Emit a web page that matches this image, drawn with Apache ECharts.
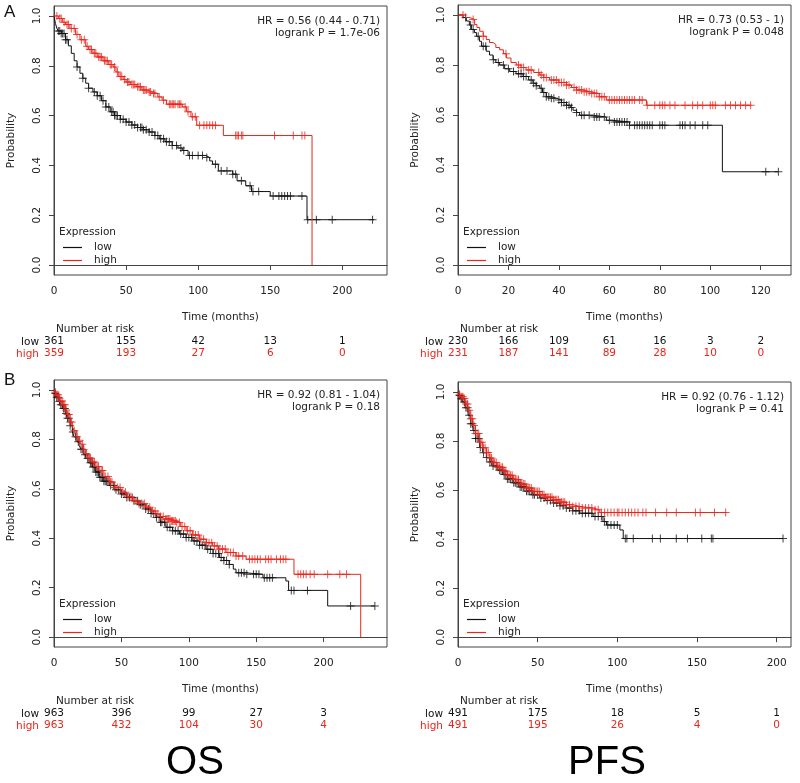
<!DOCTYPE html>
<html><head><meta charset="utf-8">
<script src="https://cdn.jsdelivr.net/npm/echarts@6/dist/echarts.min.js"></script>
<style>html,body{margin:0;padding:0;background:#fff}#c{width:800px;height:783px}</style>
</head><body><div id="c"></div>
<script>
// ---------- DATA ----------
// Panel A OS
const aOsTicks = [0, 50, 100, 150, 200];
const aOsLow = [[0,1],[1,0.97],[2,0.95],[3,0.94],[5,0.93],[8,0.905],[10,0.88],[12,0.85],[14,0.82],[16,0.795],[18,0.77],[20,0.75],[22,0.73],[24,0.71],[27,0.695],[30,0.68],[33,0.66],[36,0.635],[39,0.615],[42,0.6],[46,0.585],[50,0.574],[54,0.562],[58,0.552],[62,0.543],[66,0.534],[70,0.52],[73,0.507],[77,0.495],[82,0.48],[86,0.47],[89,0.46],[93,0.44],[105,0.432],[108,0.418],[110,0.405],[114,0.378],[124,0.365],[127,0.338],[133,0.318],[137,0.295],[150,0.277],[175.5,0.182],[222,0.182]];
const aOsHigh = [[0,1],[3,0.99],[6,0.975],[8,0.966],[11,0.95],[15,0.926],[18,0.905],[22,0.878],[24,0.865],[27,0.85],[30,0.835],[34,0.82],[38,0.805],[41,0.795],[43,0.775],[45,0.757],[48,0.745],[50,0.735],[53,0.725],[57,0.716],[61,0.703],[65,0.695],[68,0.689],[72,0.675],[75,0.662],[78,0.646],[89,0.635],[92,0.615],[95,0.595],[99,0.561],[117.5,0.52],[179,0]];
const aOsLowCens = [3,4,5,6,7,8,9,16,20,24,28,30,32,34,36,38,40,41,42,43,44,46,48,50,52,54,56,58,60,61,62,64,66,68,70,72,74,76,78,80,82,85,88,90,94,96,100,103,106,112,116,120,124,126,130,136,138,142,152,156,158,160,162,164,172,176,182,193,221];
const aOsHighCens = [2,4,5,7,9,10,12,14,16,19,21,23,25,26,28,29,31,32,33,35,36,37,39,40,42,44,46,47,49,51,52,54,55,56,58,59,60,62,63,64,66,67,69,70,73,76,80,81,82,83,84,86,87,88,91,93,96,98,101,104,106,108,110,112,126,127,128,130,131,153,166,172,174];
const aOsRiskLow = [361, 155, 42, 13, 1];
const aOsRiskHigh = [359, 193, 27, 6, 0];

// Panel A PFS
const aPfsTicks = [0, 20, 40, 60, 80, 100, 120];
const aPfsLow = [[0,1],[2,0.99],[3.3,0.976],[4.5,0.96],[5.3,0.942],[6.5,0.93],[7.3,0.915],[8.5,0.895],[9.3,0.875],[11.2,0.855],[12.5,0.84],[13.9,0.821],[15,0.81],[16.5,0.8],[18.5,0.785],[20.5,0.774],[23,0.765],[25.8,0.754],[28,0.74],[29.7,0.727],[31,0.717],[32.4,0.707],[33.5,0.69],[35,0.673],[37,0.667],[39,0.66],[41,0.65],[43,0.639],[44.5,0.63],[45.6,0.619],[47,0.61],[48.2,0.599],[53.5,0.592],[58.8,0.579],[61,0.572],[68,0.559],[104.8,0.373],[127,0.373]];
const aPfsHigh = [[0,1],[3,0.99],[4.6,0.982],[6.6,0.962],[7.5,0.95],[8.6,0.935],[10,0.915],[11.2,0.902],[12.5,0.89],[13.9,0.882],[15,0.87],[16.5,0.861],[18,0.845],[19.2,0.828],[21,0.81],[23.1,0.8],[25,0.79],[27,0.78],[30,0.77],[32.4,0.76],[34,0.75],[36.3,0.74],[40,0.73],[43,0.72],[45,0.71],[47,0.7],[50,0.693],[52.2,0.686],[56,0.673],[58.8,0.66],[74.7,0.639],[116.3,0.639]];
const aPfsLowCens = [3,5,6,8,10,11,14,16,18,20,22,24,25,26,27,29,30,31,33,34,35,36,37,38,40,41,42,43,44,45,47,49,50,52,54,55,56,58,60,62,63,64,65,66,67,68,70,71,72,73,74,75,76,77,80,81,82,88,89,90,92,94,97,99,122,127];
const aPfsHighCens = [2,6,10,19,24,25,26,28,29,32,33,34,35,37,38,39,40,41,42,43,44,46,47,48,49,50,51,52,53,54,55,56,57,58,60,61,62,63,64,65,66,67,68,69,70,72,73,75,78,80,81,82,84,86,90,93,95,97,100,101,102,106,108,110,112,114,116];
const aPfsRiskLow = [230, 166, 109, 61, 16, 3, 2];
const aPfsRiskHigh = [231, 187, 141, 89, 28, 10, 0];

// Panel B OS
const bOsTicks = [0, 50, 100, 150, 200];
const bOsLow = [[0,1],[1,0.985],[2,0.97],[3.7,0.953],[5,0.94],[6.5,0.925],[8.7,0.905],[10,0.885],[12,0.855],[13.6,0.83],[15,0.81],[17,0.79],[18.6,0.776],[20,0.76],[22,0.738],[23.5,0.722],[26,0.705],[28.5,0.688],[31,0.668],[33.5,0.647],[37,0.63],[41,0.613],[45,0.596],[49.6,0.579],[54,0.565],[58.2,0.552],[63,0.535],[68,0.518],[72,0.5],[75.6,0.484],[79,0.465],[83,0.444],[88,0.43],[93,0.417],[98,0.403],[103,0.389],[108,0.372],[112.8,0.355],[118,0.338],[122.7,0.322],[126,0.31],[130,0.294],[133,0.275],[135,0.26],[142.5,0.254],[155,0.24],[172,0.227],[174,0.189],[203,0.126],[238,0.126]];
const bOsHigh = [[0,1],[1,0.99],[2,0.98],[3.7,0.966],[5,0.955],[6.5,0.94],[8.7,0.919],[10,0.9],[12,0.87],[13.6,0.851],[15,0.835],[17,0.81],[18.6,0.796],[20,0.78],[22,0.758],[23.5,0.742],[26,0.725],[28.5,0.708],[31,0.69],[33.5,0.674],[37,0.65],[41,0.627],[45,0.605],[49.6,0.586],[54,0.568],[58.2,0.552],[63,0.54],[68,0.525],[72,0.51],[75.6,0.498],[79,0.488],[83,0.478],[87,0.47],[90.5,0.464],[94,0.447],[98,0.43],[103,0.413],[108,0.396],[113,0.382],[117.7,0.369],[122,0.356],[127.6,0.342],[135,0.328],[142.5,0.315],[178,0.254],[227.5,0]];
const bOsLowCens = [1,2,3,4,5,6,7,8,9,10,11,12,14,16,18,20,21,23,25,27,28,29,30,31,32,33,34,35,36,37,38,39,40,42,44,46,48,50,52,54,56,58,60,62,64,66,68,70,72,74,76,78,79,80,82,84,86,88,90,92,94,96,98,100,102,104,106,108,110,112,114,116,118,120,122,124,126,128,130,137,139,141,143,148,150,152,156,158,160,162,176,178,188,220,238];
const bOsHighCens = [1,2,3,4,5,6,7,8,9,10,11,12,13,15,17,19,21,22,24,26,27,29,30,32,33,35,36,38,40,42,43,45,47,49,51,53,55,57,59,61,63,65,67,69,71,73,75,77,79,81,83,84,85,86,87,88,89,90,91,93,95,97,99,101,103,105,107,109,111,113,115,117,119,121,123,125,127,129,131,133,135,137,140,145,147,149,151,153,157,159,161,165,168,170,172,181,183,185,187,190,193,203,212,217];
const bOsRiskLow = [963, 396, 99, 27, 3];
const bOsRiskHigh = [963, 432, 104, 30, 4];

// Panel B PFS
const bPfsTicks = [0, 50, 100, 150, 200];
const bPfsLow = [[0,1],[1,0.985],[2,0.972],[3.1,0.959],[4.5,0.935],[6.3,0.904],[8,0.87],[9.4,0.842],[11,0.81],[13.6,0.773],[15.5,0.752],[17.8,0.732],[20,0.714],[22,0.698],[25,0.68],[28.3,0.663],[31,0.645],[34.6,0.629],[39,0.612],[43,0.595],[47,0.58],[51.3,0.567],[55,0.557],[59.7,0.547],[64,0.536],[68,0.526],[72,0.515],[76.4,0.505],[84.8,0.492],[91,0.471],[93.2,0.457],[101.6,0.437],[103.7,0.402],[204,0.402]];
const bPfsHigh = [[0,1],[1,0.99],[2,0.98],[3.1,0.973],[4.5,0.95],[6.3,0.925],[8,0.89],[9.4,0.863],[11,0.83],[13.6,0.794],[15.5,0.772],[17.8,0.753],[20,0.73],[22,0.712],[25,0.693],[28.3,0.677],[31,0.66],[34.6,0.643],[39,0.624],[43,0.608],[47,0.594],[51.3,0.581],[55,0.57],[59.7,0.56],[64,0.55],[68,0.54],[72,0.533],[76.4,0.526],[84.8,0.519],[89,0.508],[168.6,0.508]];
const bPfsLowCens = [1,2,3,4,5,6,7,8,9,10,11,12,13,14,16,18,20,21,22,24,26,27,28,29,30,31,32,33,34,35,36,37,38,39,40,41,42,43,44,45,46,47,48,50,52,54,56,58,60,62,64,66,68,70,72,74,76,78,80,82,84,86,88,90,92,94,96,98,100,105,106,110,122,127,137,144,153,159,160,204];
const bPfsHighCens = [1,2,3,4,5,6,7,8,9,10,11,12,13,14,15,16,17,18,19,20,21,22,23,24,25,26,27,28,29,30,31,32,33,34,35,36,37,38,39,40,41,42,43,44,45,46,47,48,49,50,51,52,53,54,55,56,57,58,59,60,61,62,63,64,65,66,67,68,70,72,74,76,78,80,82,84,86,88,90,92,94,96,98,100,101,103,105,107,109,111,113,116,118,124,131,137,149,152,161,168];
const bPfsRiskLow = [491, 175, 18, 5, 1];
const bPfsRiskHigh = [491, 195, 26, 4, 0];

const yTicks = [0, 0.2, 0.4, 0.6, 0.8, 1.0];
const hrTexts = [
  ['HR = 0.56 (0.44 - 0.71)', 'logrank P = 1.7e-06'],
  ['HR = 0.73 (0.53 - 1)', 'logrank P = 0.048'],
  ['HR = 0.92 (0.81 - 1.04)', 'logrank P = 0.18'],
  ['HR = 0.92 (0.76 - 1.12)', 'logrank P = 0.41']
];

// ---------- BUILD ----------
const FONT = 'DejaVu Sans';
const BLACK = '#111111';
const RED = '#e8261c';
const AX = '#444444';

const panels = [
  {grid:{left:54, top:6, width:333, height:269}, xmax:231, ticks:aOsTicks, low:aOsLow, high:aOsHigh, lc:aOsLowCens, hc:aOsHighCens, rl:aOsRiskLow, rh:aOsRiskHigh},
  {grid:{left:458, top:5, width:333, height:270}, xmax:132, ticks:aPfsTicks, low:aPfsLow, high:aPfsHigh, lc:aPfsLowCens, hc:aPfsHighCens, rl:aPfsRiskLow, rh:aPfsRiskHigh},
  {grid:{left:54, top:380, width:333, height:267}, xmax:247, ticks:bOsTicks, low:bOsLow, high:bOsHigh, lc:bOsLowCens, hc:bOsHighCens, rl:bOsRiskLow, rh:bOsRiskHigh},
  {grid:{left:458, top:382, width:333, height:265}, xmax:209, ticks:bPfsTicks, low:bPfsLow, high:bPfsHigh, lc:bPfsLowCens, hc:bPfsHighCens, rl:bPfsRiskLow, rh:bPfsRiskHigh}
];

function stepAt(curve, t) {
  let s = curve[0][1];
  for (const p of curve) { if (p[0] <= t) s = p[1]; else break; }
  return s;
}
const PLUS = 'path://M3.5,0h1v3.5h3.5v1h-3.5v3.5h-1v-3.5h-3.5v-1h3.5z';

const grid = [], xAxis = [], yAxis = [], series = [], legend = [], graphic = [];
panels.forEach((p, i) => {
  grid.push(Object.assign({show:true, borderColor:AX, borderWidth:1, backgroundColor:'transparent'}, p.grid));
  const base = xAxis.length;
  xAxis.push({
    type:'value', gridIndex:i, min:0, max:p.xmax, position:'bottom',
    axisLine:{show:true, lineStyle:{color:AX}},
    axisTick:{show:true, length:5, inside:false, customValues:p.ticks, lineStyle:{color:AX}},
    axisLabel:{customValues:p.ticks, margin:11, fontFamily:FONT, fontSize:10.5, color:'#222'},
    splitLine:{show:false},
    name:'Time (months)', nameLocation:'middle', nameGap:37,
    nameTextStyle:{fontFamily:FONT, fontSize:10.5, color:'#222'}
  });
  [[p.rl, BLACK, 61], [p.rh, RED, 73]].forEach(([arr, col, off]) => {
    xAxis.push({
      type:'value', gridIndex:i, min:0, max:p.xmax, position:'bottom', offset:off,
      axisLine:{show:false}, axisTick:{show:false}, splitLine:{show:false},
      axisLabel:{customValues:p.ticks, margin:0, fontFamily:FONT, fontSize:10.5, color:col,
        formatter:(v) => String(arr[p.ticks.indexOf(v)])}
    });
  });
  yAxis.push({
    type:'value', gridIndex:i, min:-0.04, max:1.04,
    axisLine:{show:true, lineStyle:{color:AX}},
    axisTick:{show:true, length:5, customValues:yTicks, lineStyle:{color:AX}},
    axisLabel:{customValues:yTicks, rotate:90, margin:11, fontFamily:FONT, fontSize:10.5, color:'#222',
      formatter:(v) => v.toFixed(1)},
    splitLine:{show:false},
    name:'Probability', nameLocation:'middle', nameGap:37,
    nameTextStyle:{fontFamily:FONT, fontSize:10.5, color:'#222'}
  });
  const common = {xAxisIndex:base, yAxisIndex:i, animation:false, silent:true};
  series.push(Object.assign({type:'line', name:'low', step:'end', data:p.low, symbol:'none',
    lineStyle:{color:BLACK, width:1}, itemStyle:{color:BLACK}, z:2}, common));
  series.push(Object.assign({type:'scatter', name:'low censored', symbol:PLUS, symbolSize:8,
    data:p.lc.map(t => [t, stepAt(p.low, t)]), itemStyle:{color:BLACK}, z:3}, common));
  series.push(Object.assign({type:'line', name:'high', step:'end', data:p.high, symbol:'none',
    lineStyle:{color:RED, width:1}, itemStyle:{color:RED}, z:4}, common));
  series.push(Object.assign({type:'scatter', name:'high censored', symbol:PLUS, symbolSize:8,
    data:p.hc.map(t => [t, stepAt(p.high, t)]), itemStyle:{color:RED}, z:5}, common));

  const gl = p.grid.left, gt = p.grid.top, gw = p.grid.width, gh = p.grid.height;
  // legend
  legend.push({
    data:['low','high'], orient:'vertical', left:gl + 9, top:gt + gh - 34,
    icon:'rect', itemWidth:19, itemHeight:1.2, itemGap:0, selectedMode:false, padding:0,
    textStyle:{fontFamily:FONT, fontSize:10.5, color:'#222', lineHeight:13, padding:[0,0,0,7]}
  });
  graphic.push({type:'text', left:gl + 5, top:gt + gh - 48,
    style:{text:'Expression', font:'10.5px "DejaVu Sans"', fill:'#222'}});
  // HR texts
  graphic.push({type:'text', x:gl + gw - 7, y:gt + 9,
    style:{text:hrTexts[i][0] + '\n' + hrTexts[i][1], font:'10.5px "DejaVu Sans"', fill:'#222', align:'right', lineHeight:12.5}});
  // risk table header
  graphic.push({type:'text', x:gl + 2, y:gt + gh + 49,
    style:{text:'Number at risk', font:'10.5px "DejaVu Sans"', fill:'#222'}});
  graphic.push({type:'text', x:gl - 15, y:gt + gh + 62,
    style:{text:'low', font:'10.5px "DejaVu Sans"', fill:BLACK, align:'right'}});
  graphic.push({type:'text', x:gl - 15, y:gt + gh + 74,
    style:{text:'high', font:'10.5px "DejaVu Sans"', fill:RED, align:'right'}});
});
graphic.push({type:'text', x:4, y:4, style:{text:'A', font:'17px "Liberation Sans"', fill:'#111'}});
graphic.push({type:'text', x:4, y:372, style:{text:'B', font:'17px "Liberation Sans"', fill:'#111'}});
graphic.push({type:'text', x:195, y:743, style:{text:'OS', font:'40px "Liberation Sans"', fill:'#000', align:'center'}});
graphic.push({type:'text', x:607, y:743, style:{text:'PFS', font:'40px "Liberation Sans"', fill:'#000', align:'center'}});

const chart = echarts.init(document.getElementById('c'), null, {renderer:'canvas'});
chart.setOption({animation:false, backgroundColor:'#fff', grid, xAxis, yAxis, series, legend, graphic});
</script></body></html>
